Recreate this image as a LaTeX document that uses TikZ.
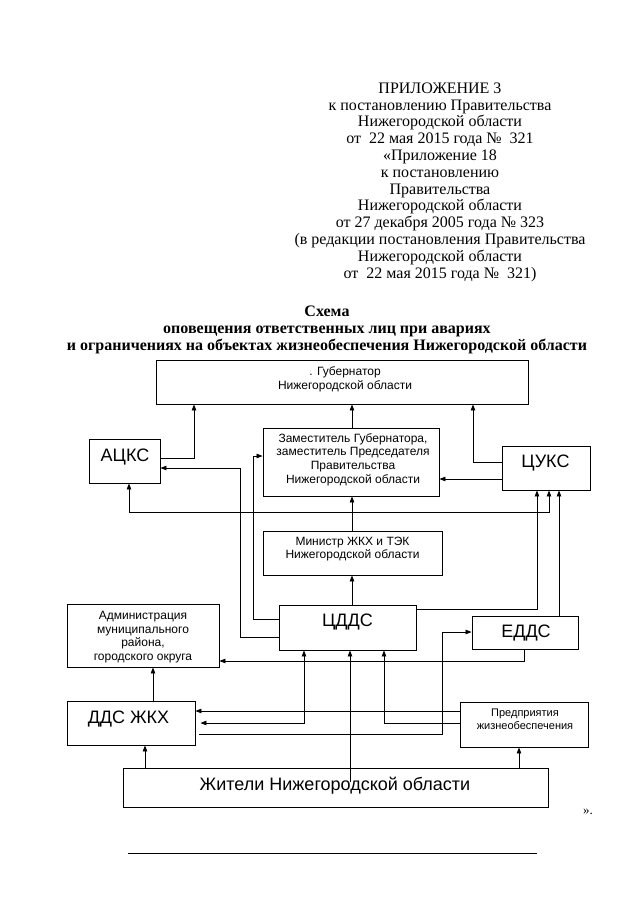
\documentclass[tikz,border=0pt]{standalone}
\usepackage{fontspec}
\setmainfont{Liberation Serif}
\newfontfamily\arialf{Liberation Sans}
\usetikzlibrary{arrows.meta}
\tikzset{
 box/.style={draw, line width=0.9pt, inner sep=0pt, rectangle},
 sm/.style={font=\arialf\fontsize{12}{13.7}\selectfont, align=center, inner sep=0pt},
 smp/.style={font=\arialf\fontsize{11}{13}\selectfont, align=center, inner sep=0pt},
 bg/.style={font=\arialf\fontsize{18}{20}\selectfont, inner sep=0pt, anchor=base},
 hdr/.style={font=\fontsize{16}{16.8}\selectfont, align=center, inner sep=0pt, anchor=north},
 ttl/.style={font=\bfseries\fontsize{16}{16.8}\selectfont, align=center, inner sep=0pt, anchor=north},
 con/.style={line width=0.75pt},
 arr/.style={con, -{Triangle[length=6pt,width=4.5pt]}},
 biarr/.style={con, {Triangle[length=6pt,width=4.5pt]}-{Triangle[length=6pt,width=4.5pt]}},
}
\begin{document}
\begin{tikzpicture}[x=1pt,y=-1pt]
\useasboundingbox (0,0) rectangle (640,905);
\fill[white] (0,0) rectangle (640,905);

% header
\node[hdr] (hdr) at (440,82.5) {ПРИЛОЖЕНИЕ 3\\к постановлению Правительства\\Нижегородской области\\от\ \ 22 мая 2015 года №\ \ 321\\«Приложение 18\\к постановлению\\Правительства\\Нижегородской области\\от 27 декабря 2005 года № 323\\(в редакции постановления Правительства\\Нижегородской области\\от\ \ 22 мая 2015 года №\ \ 321)};

% title
\node[ttl] (ttl) at (327,306) {Схема\\оповещения ответственных лиц при авариях\\и ограничениях на объектах жизнеобеспечения Нижегородской области};

% boxes
\node[box, minimum width=372pt, minimum height=44pt] (gov) at (342,382) {};
\node[box, minimum width=71pt, minimum height=44pt] (ackc) at (124.5,461) {};
\node[box, minimum width=176pt, minimum height=68pt] (dep) at (351,462) {};
\node[box, minimum width=88pt, minimum height=44pt] (cuks) at (546,468) {};
\node[box, minimum width=179pt, minimum height=44pt] (min) at (352.5,553) {};
\node[box, minimum width=137pt, minimum height=45pt] (cdds) at (347.5,627.5) {};
\node[box, minimum width=106pt, minimum height=33pt] (edds) at (525,632.5) {};
\node[box, minimum width=152pt, minimum height=63pt] (adm) at (143,635.5) {};
\node[box, minimum width=128pt, minimum height=44pt] (dds) at (131,723) {};
\node[box, minimum width=128pt, minimum height=45pt] (pred) at (524,724.5) {};
\node[box, minimum width=425pt, minimum height=39pt] (zhit) at (335.5,787.5) {};

% box texts
\node[sm] (govt) at (345,379) {. Губернатор\\Нижегородской области};
\node[bg] (ackct) at (125,461) {АЦКС};
\node[sm] (dept) at (353,459.5) {Заместитель Губернатора,\\заместитель Председателя\\Правительства\\Нижегородской области};
\node[bg] (cukst) at (545.5,467) {ЦУКС};
\node[sm] (mint) at (352.5,549) {Министр ЖКХ и ТЭК\\Нижегородской области};
\node[bg] (cddst) at (347.5,626) {ЦДДС};
\node[bg] (eddst) at (526,637) {ЕДДС};
\node[sm] (admt) at (143,637) {Администрация\\муниципального\\района,\\городского округа};
\node[bg] (ddst) at (128.5,723) {ДДС ЖКХ};
\node[smp] (predt) at (525,719.5) {Предприятия\\жизнеобеспечения};
\node[bg] (zhitt) at (335,790) {Жители Нижегородской области};

% connectors
\draw[arr] (ackc.east |- 0,458) -| (gov.south -| 194,0);
\draw[arr] (cdds.west |- 0,637) -| (240,468) -- (ackc.east |- 0,468);
\draw[arr] (cdds.west |- 0,619) -| (253,456) -- (dep.west |- 0,456);
\draw[arr] (dep.north -| 352,0) -- (gov.south -| 352,0);
\draw[arr] (cuks.west |- 0,462) -| (gov.south -| 473,0);
\draw[arr] (cuks.west |- 0,479) -- (dep.east |- 0,479);
\draw[arr] (min.north -| 352,0) -- (dep.south -| 352,0);
\draw[biarr] (ackc.south -| 129,0) |- (549,512) -- (cuks.south -| 549,0);
\draw[arr] (cdds.east |- 0,609) -| (cuks.south -| 537,0);
\draw[arr] (edds.north -| 559,0) -- (cuks.south -| 559,0);
\draw[arr] (cdds.north -| 352,0) -- (min.south -| 352,0);
\draw[arr] (edds.south -| 524,0) |- (adm.east |- 0,661);
\draw[biarr, shorten <=5pt] (dds.east |- 0,723) -| (cdds.south -| 304,0);
\coordinate (zin) at (350,782);
\draw[arr] (zin) -- (cdds.south -| zin);
\draw[arr] (pred.west |- 0,723) -| (cdds.south -| 384,0);
\draw[arr] (pred.west |- 0,711) -- (dds.east |- 0,711);
\draw[arr, shorten <=4pt] (dds.east |- 0,734) -| (442,632) -- (edds.west |- 0,632);
\draw[arr] (dds.north -| 153,0) -- (adm.south -| 153,0);
\draw[arr] (zhit.north -| 145,0) -- (dds.south -| 145,0);
\draw[arr] (zhit.north -| 519,0) -- (pred.south -| 519,0);

% closing mark and rule
\node[font=\fontsize{13}{14}\selectfont, inner sep=0pt] (close) at (588,812) {».};
\coordinate (rl) at (128,853);
\coordinate (rr) at (537,853);
\draw[line width=0.9pt] (rl) -- (rr);
\end{tikzpicture}
\end{document}
